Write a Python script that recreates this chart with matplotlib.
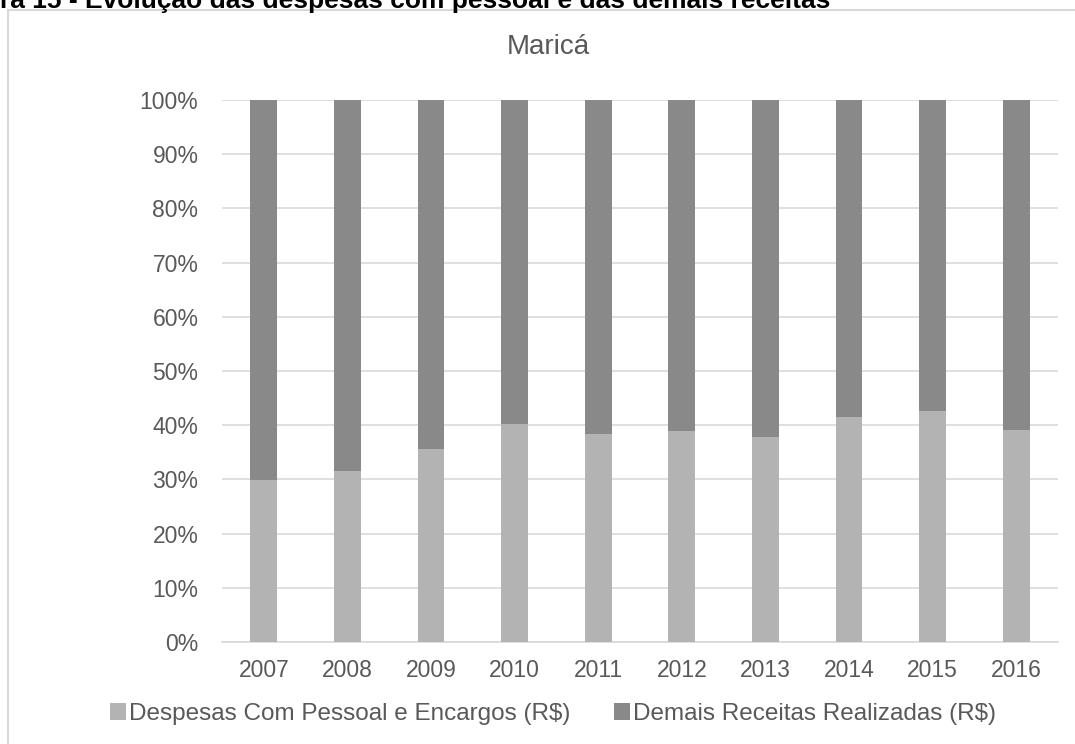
import numpy as np
import matplotlib.pyplot as plt
from matplotlib.patches import Rectangle

plt.rcParams['font.family'] = ['Liberation Sans', 'DejaVu Sans']

# Data (share of total, %)
years = ['2007', '2008', '2009', '2010', '2011', '2012', '2013', '2014', '2015', '2016']
despesas = [29.9, 31.6, 35.7, 40.3, 38.3, 39.0, 37.9, 41.6, 42.7, 39.2]
demais = [100 - v for v in despesas]
label_despesas = 'Despesas Com Pessoal e Encargos (R$)'
label_demais = 'Demais Receitas Realizadas (R$)'

txt = '#595959'
c_light = '#b3b3b3'
c_dark = '#898989'
grid_c = '#d9d9d9'

fig = plt.figure(figsize=(10.75, 7.44), dpi=100)
fig.patch.set_facecolor('white')

# chart border (cut off at right and bottom like the source)
fig.patches.append(Rectangle((8 / 1075, -0.05), 1.2, 1 - 10 / 744 + 0.05,
                             transform=fig.transFigure, fill=False,
                             edgecolor=grid_c, linewidth=1.5))

# cropped caption at the very top
fig.text(0.0, 1 - 8 / 744, 'ra 15 - Evolução das despesas com pessoal e das demais receitas',
         fontsize=19, fontweight='bold', color='black', ha='left', va='baseline')

ax = fig.add_axes([222 / 1075, 1 - 642 / 744, (1058 - 222) / 1075, (642 - 100) / 744])
x = np.arange(len(years))
w = 0.32
ax.bar(x, despesas, width=w, color=c_light, label=label_despesas, zorder=3)
ax.bar(x, demais, width=w, bottom=despesas, color=c_dark, label=label_demais, zorder=3)

ax.set_xlim(-0.5, len(years) - 0.5)
ax.set_ylim(0, 100)
ax.set_yticks(np.arange(0, 101, 10))
ax.set_yticklabels([f'{v}%' for v in range(0, 101, 10)])
ax.set_xticks(x)
ax.set_xticklabels(years)
ax.tick_params(axis='y', length=0, pad=17, labelsize=16.5, labelcolor=txt)
ax.tick_params(axis='x', length=0, pad=12, labelsize=16.5, labelcolor=txt)
ax.grid(axis='y', color=grid_c, linewidth=1.2, zorder=0)
for s in ['top', 'right', 'left']:
    ax.spines[s].set_visible(False)
ax.spines['bottom'].set_color(grid_c)
ax.spines['bottom'].set_linewidth(1.2)

fig.text(548 / 1075, 1 - 47 / 744, 'Maricá', fontsize=20, color=txt,
         ha='center', va='center')

fig.legend(loc='center', bbox_to_anchor=(553 / 1075, 1 - 714 / 744), ncol=2,
           frameon=False, fontsize=17.5, labelcolor=txt, handlelength=0.65,
           handleheight=0.65, handletextpad=0.12, columnspacing=1.8,
           borderpad=0, borderaxespad=0)

fig.savefig('out.png', dpi=100)
